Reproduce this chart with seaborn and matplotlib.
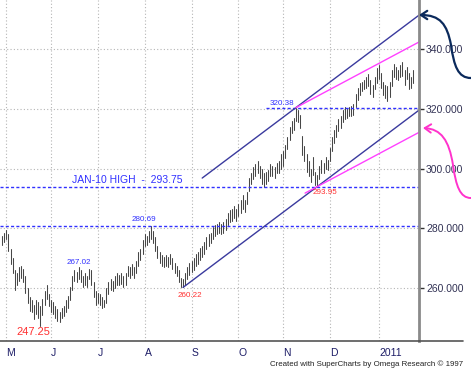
import numpy as np
import pandas as pd
import seaborn as sns
import matplotlib.pyplot as plt
from matplotlib.path import Path
from matplotlib.patches import FancyArrowPatch

# daily bars from 29 Apr 2010 to late Jan 2011
start_date = "2010-04-29"

highs = [
    277.5, 278.5, 279.5, 278.0, 273.0, 270.0, 266.0, 265.0, 267.0, 267.5,
    266.5, 264.0, 260.0, 257.0, 256.0, 254.5, 256.0, 255.5, 254.0, 256.5,
    259.0, 261.0, 258.0, 256.0, 255.5, 254.0, 253.0, 252.0, 253.5, 254.0,
    256.0, 257.5, 260.5, 264.0, 266.0, 265.5, 267.02, 266.0, 264.0, 265.0,
    264.0, 266.5, 266.0, 262.0, 259.0, 258.5, 258.0, 257.0, 256.0, 260.0,
    262.0, 263.0, 262.5, 264.0, 265.0, 264.5, 265.0, 264.0, 265.0, 267.5,
    267.0, 268.0, 267.0, 269.0, 272.0, 273.0, 276.0, 278.0, 277.5, 279.0,
    280.69, 279.0, 277.0, 274.0, 272.0, 271.0, 270.5, 271.0, 270.5, 271.5,
    270.0, 268.5, 267.5, 266.0, 263.5, 263.0, 265.0, 267.0, 268.5, 269.0,
    270.0, 271.5, 272.0, 273.5, 274.0, 275.5, 277.0, 278.0, 278.5, 280.5,
    281.0, 281.5, 282.0, 281.5, 282.0, 283.0, 285.0, 286.0, 286.5, 287.5,
    286.5, 288.0, 289.5, 291.0, 289.5, 292.0, 297.0, 298.5, 300.5, 301.5,
    302.5, 301.0, 300.0, 298.5, 299.0, 299.5, 301.5, 301.0, 300.5, 302.0,
    302.5, 305.0, 306.0, 308.0, 310.5, 314.0, 316.0, 317.0, 320.38, 319.5,
    318.0, 311.0, 307.5, 305.0, 302.5, 300.0, 304.0, 299.0, 298.0, 301.0,
    303.0, 302.0, 304.0, 303.0, 307.0, 310.5, 313.0, 314.5, 316.5, 317.5,
    319.5, 320.5, 320.0, 320.5, 321.0, 321.5, 325.0, 327.0, 328.5, 329.0,
    329.5, 330.5, 331.5, 329.5, 328.0, 330.5, 333.5, 334.6, 332.0, 329.0,
    328.0, 327.5, 329.0, 333.0, 335.0, 334.0, 333.0, 334.5, 335.5, 333.0,
    334.0, 332.0, 330.5, 333.0,
]
lows = [
    274.5, 275.5, 276.5, 272.5, 268.0, 265.0, 259.5, 261.0, 262.5, 263.5,
    262.0, 258.5, 255.0, 252.5, 252.0, 249.5, 251.5, 250.0, 247.25, 251.0,
    254.5, 256.5, 254.0, 252.0, 251.5, 250.0, 249.0, 248.7, 250.0, 250.5,
    252.0, 253.5, 256.0, 259.5, 262.5, 262.0, 263.0, 262.0, 260.5, 261.0,
    260.5, 263.0, 261.0, 257.0, 254.5, 255.0, 254.5, 253.5, 253.8, 255.0,
    258.0, 259.5, 259.0, 260.0, 261.0, 261.0, 261.5, 260.5, 261.0, 264.0,
    263.5, 264.5, 263.5, 265.0, 267.5, 269.5, 271.5, 274.0, 274.5, 275.5,
    276.5, 275.0, 272.5, 270.0, 268.5, 267.5, 267.0, 267.5, 267.0, 268.0,
    266.5, 265.0, 264.0, 262.0, 260.5, 260.22, 261.0, 263.0, 264.5, 265.5,
    266.0, 267.5, 268.0, 269.5, 270.5, 271.5, 273.0, 274.0, 275.0, 276.5,
    277.5, 278.0, 278.5, 278.0, 278.5, 279.5, 281.0, 282.0, 282.5, 283.5,
    282.5, 284.0, 285.0, 286.5, 285.5, 288.0, 292.5, 295.0, 296.5, 297.5,
    298.5, 297.0, 295.0, 293.8, 295.0, 296.0, 297.5, 297.5, 297.0, 298.5,
    298.5, 300.0, 301.0, 303.5, 306.5, 309.5, 312.0, 313.0, 316.0, 315.5,
    313.5, 304.5, 302.5, 299.0, 297.5, 295.5, 298.0, 294.5, 293.95, 296.5,
    298.5, 298.5, 300.0, 299.5, 302.5, 306.0, 308.5, 310.5, 312.5, 313.5,
    315.5, 316.5, 317.0, 317.5, 317.5, 318.0, 320.5, 323.0, 324.5, 326.0,
    326.5, 327.0, 327.5, 325.0, 324.0, 326.5, 328.5, 330.0, 327.0, 324.5,
    323.5, 322.5, 324.0, 327.5, 330.5, 330.0, 329.5, 330.5, 331.0, 328.0,
    330.0, 326.5, 327.0, 328.5,
]

month_labels = ["M", "J", "J", "A", "S", "O", "N", "D", "2011"]
price_ticks = [260, 280, 300, 320, 340]

jan10_high = 293.75
# pivots: (bar, price)
low1_i, low1 = 85, 260.22
peak_i, peak = 138, 320.38
low2_i, low2 = 148, 293.95
high_aug_i, high_aug = 70, 280.69
high_jun_i, high_jun = 36, 267.02
low_jun_i, low_jun = 18, 247.25
mag_slope = 0.38

BLUE = "#3030ff"
RED = "#ff3030"
NAVY = "#3a3a9e"
PINK = "#ff40ff"

sns.set_style("white")
plt.rcParams["font.family"] = ["Liberation Sans", "DejaVu Sans"]

dates = pd.bdate_range(start_date, periods=len(highs))
idx = np.arange(len(highs))
month_idx = np.flatnonzero(dates.month[1:] != dates.month[:-1]) + 1
mondays = np.flatnonzero(dates.weekday == 0)

bars = pd.DataFrame({
    "bar": np.repeat(idx, 2),
    "price": np.column_stack([lows, highs]).ravel(),
})

fig = plt.figure(figsize=(4.71, 3.72), dpi=100)
ax = fig.add_axes([0, 31 / 372, 419 / 471, 341 / 372])
x_end = 195.8
ax.set_xlim(-0.94, x_end)
ax.set_ylim(242.3, 356.4)

sns.lineplot(data=bars, x="bar", y="price", units="bar", estimator=None,
             color="#474747", lw=0.75, ax=ax, legend=False)
ax.set_xlabel("")
ax.set_ylabel("")

# dashed levels
dash = (0, (2.2, 1.6))
ax.axhline(jan10_high, color=BLUE, ls=dash, lw=1)
ax.axhline(high_aug, color=BLUE, ls=dash, lw=1)
ax.plot([124, x_end], [peak, peak], color=BLUE, ls=dash, lw=1)

# channel
slope = (low2 - low1) / (low2_i - low1_i)
ax.plot([low1_i, x_end], [low1, low1 + slope * (x_end - low1_i)], color=NAVY, lw=1)
ax.plot([94, x_end], [peak + slope * (94 - peak_i), peak + slope * (x_end - peak_i)],
        color=NAVY, lw=1)
ax.plot([peak_i, x_end], [peak, peak + mag_slope * (x_end - peak_i)], color=PINK, lw=1)
ax.plot([142.3, x_end], [low2 + mag_slope * (142.3 - low2_i), low2 + mag_slope * (x_end - low2_i)],
        color=PINK, lw=1)

# pivot labels
def lab(x, y, s, color, dx, dy, ha="center", size=5.8):
    ax.annotate(s, xy=(x, y), xytext=(dx, dy), textcoords="offset points",
                ha=ha, va="center", color=color, fontsize=size)

lab(low_jun_i, low_jun, "247.25", RED, -5, -4.5, size=8)
lab(high_jun_i, high_jun, "267.02", BLUE, 0, 3.5)
lab(high_aug_i, high_aug, "280.69", BLUE, -5, 5)
lab(low1_i, low1, "260.22", RED, 5, -5.5)
lab(peak_i, peak, "320.38", BLUE, -1, 3, ha="right")
lab(low2_i, low2, "293.95", RED, -3, -4.5, ha="left")
ax.annotate("JAN-10 HIGH  -  293.75", xy=(33, jan10_high), xytext=(0, 1.5),
            textcoords="offset points", ha="left", va="bottom", color=BLUE, fontsize=7.5)

# axes / ticks
ax.yaxis.tick_right()
ax.set_yticks(price_ticks)
ax.set_yticklabels([f"{v:.3f}" for v in price_ticks])
ax.set_xticks(month_idx)
ax.set_xticklabels(month_labels)
ax.set_xticks(mondays, minor=True)
for t in ax.get_xticklabels():
    t.set_horizontalalignment("left")
ax.grid(which="major", ls=(0, (1, 2)), color="#b5b5b5", lw=0.8)
ax.tick_params(axis="x", which="major", length=5, width=1, color="#333333",
               labelsize=7.5, labelcolor="#1c1c66", pad=0)
ax.tick_params(axis="x", which="minor", length=2.5, width=1, color="#333333")
ax.tick_params(axis="y", which="major", length=3.5, width=1, color="#333333",
               labelsize=7.5, labelcolor="#333355", pad=1.5)
ax.spines["top"].set_visible(False)
ax.spines["left"].set_visible(False)
ax.spines["bottom"].set_color("#555555")
ax.spines["bottom"].set_linewidth(1.2)
ax.spines["right"].set_color("#8a8a8a")
ax.spines["right"].set_linewidth(2)

fig.text(463 / 471, 1 - 364 / 372, "Created with SuperCharts by Omega Research \u00a9 1997",
         ha="right", va="center", fontsize=5.7, color="#222222")

# overlay for the hand-drawn arrows
ov = fig.add_axes([0, 0, 1, 1], zorder=5)
ov.set_xlim(0, 471)
ov.set_ylim(372, 0)
ov.axis("off")
ov.patch.set_alpha(0)
ov.plot([419, 463], [341, 341], color="#555555", lw=1.2)

C = Path.CURVE4
navy_path = Path([(471, 78), (458, 78), (454, 66), (451, 45), (447, 24), (440, 15), (419, 15)],
                 [Path.MOVETO, C, C, C, C, C, C])
pink_path = Path([(471, 198), (460, 198), (456, 186), (453, 165), (449, 140), (441, 129), (423, 128)],
                 [Path.MOVETO, C, C, C, C, C, C])
ov.add_patch(FancyArrowPatch(path=navy_path, arrowstyle="->,head_length=0.45,head_width=0.3",
                             mutation_scale=10, color="#0b2a5c", lw=1.6))
ov.add_patch(FancyArrowPatch(path=pink_path, arrowstyle="->,head_length=0.45,head_width=0.3",
                             mutation_scale=10, color="#ff33cc", lw=1.4))

fig.savefig("out.png", dpi=100, facecolor="white")
